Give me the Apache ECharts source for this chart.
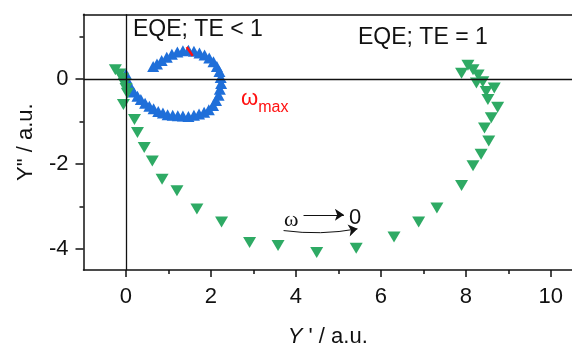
<!DOCTYPE html>
<html>
<head>
<meta charset="utf-8">
<script src="https://cdn.jsdelivr.net/npm/echarts@6/dist/echarts.min.js"></script>
<style>
  html, body { margin: 0; padding: 0; background: #ffffff; }
  #chart { width: 572px; height: 353px; }
</style>
</head>
<body>
<div id="chart"></div>
<script>
// Tick positions
const xMajorTicks = [0, 2, 4, 6, 8, 10];
const xMinorTicks = [1, 3, 5, 7, 9];
const yMajorTicks = [-4, -2, 0];
const yMinorTicks = [-3, -1, 1];

// Admittance spectrum, EQE with TE < 1 (Y', Y'')
const teBelowOne = [
  [0.0, 0.12], [0.02, 0.0], [0.06, -0.12], [0.12, -0.2], [0.18, -0.3], [0.27, -0.4],
  [0.35, -0.48], [0.45, -0.57], [0.55, -0.64], [0.65, -0.7], [0.76, -0.76], [0.87, -0.8],
  [0.98, -0.84], [1.1, -0.85], [1.22, -0.86], [1.34, -0.87], [1.47, -0.88], [1.6, -0.85],
  [1.72, -0.82], [1.84, -0.78], [1.95, -0.72], [2.05, -0.62], [2.12, -0.5], [2.18, -0.38],
  [2.21, -0.24], [2.24, -0.1], [2.23, 0.04], [2.2, 0.18], [2.14, 0.3], [2.06, 0.41],
  [1.96, 0.5], [1.85, 0.57], [1.73, 0.62], [1.6, 0.66], [1.47, 0.68], [1.34, 0.67],
  [1.21, 0.64], [1.08, 0.59], [0.96, 0.52], [0.84, 0.44], [0.73, 0.36], [0.64, 0.3]
];

// Admittance spectrum, EQE with TE = 1 (Y', Y'')
const teEqualOne = [
  [-0.25, 0.22], [-0.15, 0.12], [-0.08, 0.02], [-0.04, -0.1], [0.0, -0.22], [0.03, -0.33],
  [-0.06, -0.6], [0.2, -0.95], [0.27, -1.26], [0.43, -1.61], [0.62, -1.93], [0.85, -2.36],
  [1.2, -2.63], [1.67, -3.06], [2.25, -3.37], [2.91, -3.85], [3.58, -3.92], [4.49, -4.09],
  [5.42, -3.99], [6.31, -3.72], [6.89, -3.37], [7.32, -3.04], [7.9, -2.51], [8.17, -2.04],
  [8.36, -1.77], [8.54, -1.46], [8.44, -1.15], [8.6, -0.91], [8.75, -0.66], [8.52, -0.48],
  [8.67, -0.21], [8.48, -0.29], [8.4, -0.06], [8.25, -0.09], [8.29, 0.1], [8.17, 0.22],
  [8.05, 0.33], [7.9, 0.14]
];

// Marker at the frequency of the loop maximum
const omegaMaxMarker = [[1.43, 0.76], [1.57, 0.55]];
// Frequency-direction arrows (tail, head)
const omegaArrow = [[4.18, -3.2], [5.13, -3.2]];
const sweepArrow = [[3.71, -3.57], [5.45, -3.53]];

const FONT = "'Liberation Sans', Arial, sans-serif";
const INK = '#111111';
const X_MIN = -1, X_MAX = 10.5, Y_MIN = -4.5, Y_MAX = 1.53;

const chart = echarts.init(document.getElementById('chart'), null, { renderer: 'canvas' });

const lineStyle = { color: INK, width: 1.5 };

// Arrow drawn head-first so that a positive curveness bends the path downward;
// the arrowhead sits on the 'from' end, which is the head point.
function arrowSeries(points, curveness) {
  return {
    type: 'lines', coordinateSystem: 'cartesian2d', z: 4, silent: true,
    symbol: ['arrow', 'none'], symbolSize: 9,
    lineStyle: { color: INK, width: 1, opacity: 1, curveness: curveness },
    data: [{ coords: [points[1], points[0]] }]
  };
}

chart.setOption({
  animation: false,
  backgroundColor: '#ffffff',
  grid: { left: 83.5, top: 14.3, bottom: 79.7, right: -7.5, containLabel: false },
  xAxis: [
    {
      type: 'value', position: 'bottom', min: X_MIN, max: X_MAX,
      axisLine: { show: true, onZero: false, lineStyle },
      axisTick: { show: true, length: 4, customValues: xMinorTicks, lineStyle },
      axisLabel: { customValues: xMajorTicks, fontSize: 22, fontFamily: FONT, color: INK, margin: 16 },
      splitLine: { show: false },
      name: "{i|Y} ' / a.u.",
      nameLocation: 'middle', nameGap: 56,
      nameTextStyle: {
        fontSize: 22, fontFamily: FONT, color: INK,
        rich: { i: { fontSize: 22, fontFamily: FONT, fontStyle: 'italic', color: INK } }
      }
    },
    {
      type: 'value', position: 'bottom', min: X_MIN, max: X_MAX,
      axisLine: { show: false, onZero: false },
      axisTick: { show: true, length: 7, customValues: xMajorTicks, lineStyle },
      axisLabel: { show: false }, splitLine: { show: false }
    },
    {
      type: 'value', position: 'top', min: X_MIN, max: X_MAX,
      axisLine: { show: true, onZero: false, lineStyle },
      axisTick: { show: false }, axisLabel: { show: false }, splitLine: { show: false }
    }
  ],
  yAxis: [
    {
      type: 'value', position: 'left', min: Y_MIN, max: Y_MAX,
      axisLine: { show: true, onZero: false, lineStyle },
      axisTick: { show: true, length: 4, customValues: yMinorTicks, lineStyle },
      axisLabel: { customValues: yMajorTicks, fontSize: 22, fontFamily: FONT, color: INK, margin: 15 },
      splitLine: { show: false },
      name: 'Y" / a.u.',
      nameLocation: 'middle', nameGap: 47, nameRotate: 90,
      nameTextStyle: { fontSize: 22, fontFamily: FONT, color: INK }
    },
    {
      type: 'value', position: 'left', min: Y_MIN, max: Y_MAX,
      axisLine: { show: false, onZero: false },
      axisTick: { show: true, length: 8, customValues: yMajorTicks, lineStyle },
      axisLabel: { show: false }, splitLine: { show: false }
    }
  ],
  series: [
    {
      // zero reference lines
      type: 'scatter', data: [], z: 1, silent: true,
      markLine: {
        silent: true, symbol: 'none', animation: false,
        label: { show: false },
        lineStyle: { color: INK, width: 1.3, type: 'solid' },
        data: [{ xAxis: 0 }, { yAxis: 0 }]
      }
    },
    {
      name: 'EQE; TE < 1', type: 'scatter', data: teBelowOne, z: 2,
      symbol: 'triangle', symbolSize: [12, 11],
      itemStyle: { color: '#1f6fd9', opacity: 1 }
    },
    {
      name: 'EQE; TE = 1', type: 'scatter', data: teEqualOne, z: 3,
      symbol: 'triangle', symbolRotate: 180, symbolSize: [13, 11],
      itemStyle: { color: '#2eaa64', opacity: 1 }
    },
    {
      type: 'line', data: omegaMaxMarker, z: 4, symbol: 'none', silent: true,
      lineStyle: { color: '#ff1010', width: 2.5 }
    },
    arrowSeries(omegaArrow, 0),
    arrowSeries(sweepArrow, 0.08)
  ],
  graphic: [
    { type: 'text', left: 133, top: 18, z: 10,
      style: { text: 'EQE; TE < 1', font: "23px 'Liberation Sans', Arial", fill: INK } },
    { type: 'text', left: 358, top: 26, z: 10,
      style: { text: 'EQE; TE = 1', font: "23px 'Liberation Sans', Arial", fill: INK } },
    { type: 'text', left: 241, top: 88, z: 10,
      style: {
        text: '{w|ω}{s|max}', fill: '#ff1010',
        rich: {
          w: { fontSize: 22, fontFamily: FONT, fill: '#ff1010', verticalAlign: 'bottom', lineHeight: 24 },
          s: { fontSize: 16, fontFamily: FONT, fill: '#ff1010', verticalAlign: 'bottom', padding: [0, 0, -6, 0], lineHeight: 24 }
        }
      } },
    { type: 'text', left: 284, top: 209, z: 10,
      style: { text: 'ω', font: "22px 'Liberation Serif', 'Times New Roman', serif", fill: INK } },
    { type: 'text', left: 349, top: 207, z: 10,
      style: { text: '0', font: "22px 'Liberation Sans', Arial", fill: INK } }
  ]
});
</script>
</body>
</html>
